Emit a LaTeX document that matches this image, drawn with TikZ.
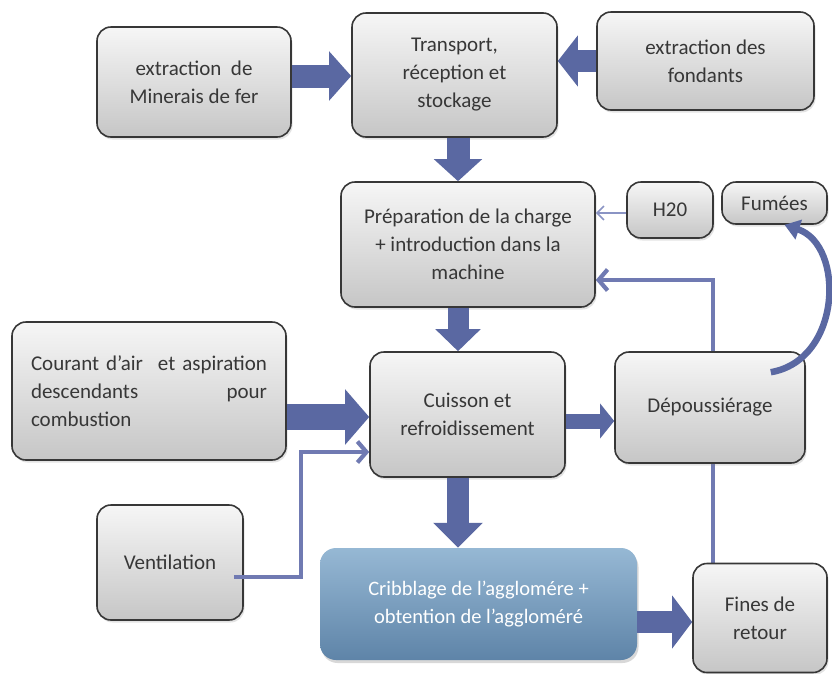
\documentclass[tikz,border=0pt]{standalone}
\usepackage{fontspec}
\setmainfont{Carlito}
\usetikzlibrary{arrows.meta,shadows}

\pgfdeclarelayer{paper}
\pgfdeclarelayer{pipes}
\pgfsetlayers{paper,pipes,main}

\definecolor{boxline}{RGB}{55,55,55}
\definecolor{boxtop}{RGB}{246,246,246}
\definecolor{boxbottom}{RGB}{198,198,198}
\definecolor{txtgray}{RGB}{55,55,55}
\definecolor{flowblue}{RGB}{90,104,162}
\definecolor{pipeblue}{RGB}{112,122,178}
\definecolor{waterblue}{RGB}{138,148,196}
\definecolor{cribtop}{RGB}{150,184,212}
\definecolor{cribbottom}{RGB}{94,132,168}

\tikzset{
  stepbox/.style={
    draw=boxline, line width=1.6pt, rounded corners=14pt,
    top color=boxtop, bottom color=boxbottom,
    text=txtgray, align=center, inner sep=0pt,
    font=\fontsize{21}{28}\selectfont,
    drop shadow={shadow xshift=1.5pt, shadow yshift=-2.5pt, opacity=0.22}
  },
  cribbox/.style={
    draw=none, rounded corners=16pt,
    top color=cribtop, bottom color=cribbottom,
    text=white, align=center, inner sep=0pt,
    font=\fontsize{20.5}{28}\selectfont,
    drop shadow={shadow xshift=1.5pt, shadow yshift=-3pt, opacity=0.3}
  },
  fat/.style n args={3}{
    draw=flowblue, line width=#1,
    -{Triangle[width=#2, length=#3, fill=flowblue]}
  },
  pipe/.style={
    draw=pipeblue, line width=4.2pt,
    -{Straight Barb[length=9pt, width=21pt]}
  },
  waterline/.style={
    draw=waterblue, line width=1.6pt,
    -{Straight Barb[length=7pt, width=14pt]}
  },
  curvearrow/.style={
    draw=flowblue, line width=6.5pt,
    -{Triangle[width=20pt, length=15pt, fill=flowblue]}
  }
}

\begin{document}
\begin{tikzpicture}[x=1pt, y=-1pt]
  \begin{pgfonlayer}{paper}
    \fill[white] (0,0) rectangle (832,673);
  \end{pgfonlayer}
  \useasboundingbox (0,0) rectangle (832,673);

  % process steps
  \node[stepbox, minimum width=194pt, minimum height=110pt] (mine) at (194,82)
    {extraction\ \ de\\Minerais de fer};
  \node[stepbox, minimum width=205pt, minimum height=124pt] (trans) at (454.5,75)
    {Transport,\\réception et\\stockage};
  \node[stepbox, minimum width=217pt, minimum height=98pt] (fond) at (705.5,61)
    {extraction des\\fondants};
  \node[stepbox, minimum width=254pt, minimum height=125pt] (prep) at (468,244.5)
    {Préparation de la charge\\+ introduction dans la\\machine};
  \node[stepbox, minimum width=86pt, minimum height=56pt] (h2o) at (670,210)
    {H20};
  \node[stepbox, minimum width=105pt, minimum height=42pt] (fum) at (774.5,203)
    {Fumées};
  \node[stepbox, minimum width=274pt, minimum height=138pt, text width=236pt, align=left] (cour) at (149,391)
    {Courant d’air\hfill et aspiration\\descendants\hfill pour\\combustion};
  \node[stepbox, minimum width=195pt, minimum height=125pt] (cuis) at (467.5,414.5)
    {Cuisson et\\refroidissement};
  \node[stepbox, minimum width=190pt, minimum height=111pt] (dep) at (710,407.5)
    {Dépoussiérage};
  \node[stepbox, minimum width=146pt, minimum height=115pt] (vent) at (170,562.5)
    {Ventilation};
  \node[cribbox, minimum width=317pt, minimum height=112pt] (crib) at (478.5,604)
    {Cribblage de l’agglomére +\\obtention de l’aggloméré};
  \node[stepbox, minimum width=134pt, minimum height=109pt] (fines) at (760,618)
    {Fines de\\retour};

  % return of fines, running behind the dust removal box
  \begin{pgfonlayer}{pipes}
    \draw[pipe] ([xshift=-47pt,yshift=-2pt]fines.north) |- ([yshift=-35.5pt]prep.east);
  \end{pgfonlayer}

  % ventilation and water feeds
  \draw[pipe] ([xshift=-10pt,yshift=-14.5pt]vent.east) -| (301,452) -- (301,452 -| cuis.west);
  \draw[waterline] ([yshift=-3pt]h2o.west) -- ([yshift=-3pt]h2o.west -| prep.east);

  % main material flow
  \draw[fat={23pt}{48pt}{22pt}] ([yshift=6pt]mine.east) -- ([yshift=6pt]mine.east -| trans.west);
  \draw[fat={22pt}{50pt}{20pt}] (fond.west) -- (fond.west -| trans.east);
  \draw[fat={23pt}{47pt}{22pt}] ([xshift=3.5pt]trans.south) -- ([xshift=3.5pt]trans.south |- prep.north);
  \draw[fat={21pt}{44pt}{22pt}] ([xshift=-10pt]prep.south) -- ([xshift=-10pt]prep.south |- cuis.north);
  \draw[fat={26pt}{54pt}{24pt}] ([yshift=-26pt]cour.east) -- ([yshift=-26pt]cour.east -| cuis.west);
  \draw[fat={15pt}{34pt}{14pt}] ([yshift=-6.5pt]cuis.east) -- ([yshift=-6.5pt]cuis.east -| dep.west);
  \draw[fat={22pt}{48pt}{25pt}] ([xshift=-9.5pt]cuis.south) -- ([xshift=-9.5pt]cuis.south |- crib.north);
  \draw[fat={22pt}{52pt}{20pt}] ([yshift=-18pt]crib.east) -- ([yshift=-18pt]crib.east -| fines.west);

  % fumes leaving the dust removal
  \draw[curvearrow] ([xshift=-35pt,yshift=-21pt]dep.north east)
    .. controls (842,360) and (845,245) .. ([xshift=10pt]fum.south);
\end{tikzpicture}
\end{document}
